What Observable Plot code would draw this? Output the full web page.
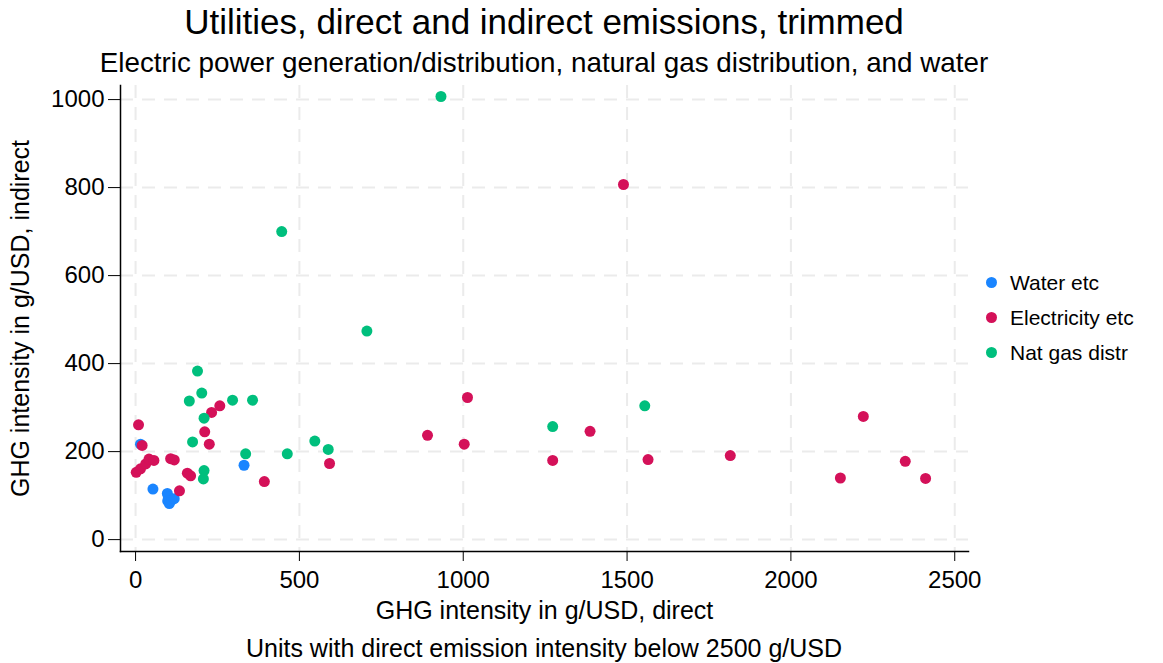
<!DOCTYPE html>
<html>
<head>
<meta charset="utf-8">
<script src="https://cdn.jsdelivr.net/npm/d3@7"></script>
<script src="https://cdn.jsdelivr.net/npm/@observablehq/plot@0.6"></script>
<style>
  body { margin: 0; background: #fff; font-family: "Liberation Sans", Arial, sans-serif; color: #000; }
  #wrap { position: relative; width: 1163px; height: 663px; overflow: hidden; }
  #title { width: 1088px; height: 44px; line-height: 44px; font-size: 35px; text-align: center; }
  #subtitle { width: 1088px; height: 38px; line-height: 38px; font-size: 27.8px; text-align: center; }
  #caption { width: 1088px; height: 44px; line-height: 44px; font-size: 25px; text-align: center; }
  #legend { position: absolute; left: 986px; top: 265px; font-size: 21px; }
  #legend .row { height: 35px; line-height: 35px; white-space: nowrap; }
  #legend .dot { display: inline-block; width: 11px; height: 11px; border-radius: 50%; margin-right: 13px; vertical-align: middle; position: relative; top: -2px; }
  svg { display: block; }
</style>
</head>
<body>
<div id="wrap">
  <div id="title">Utilities, direct and indirect emissions, trimmed</div>
  <div id="subtitle">Electric power generation/distribution, natural gas distribution, and water</div>
  <div id="chart"></div>
  <div id="caption">Units with direct emission intensity below 2500 g/USD</div>
  <div id="legend"></div>
</div>
<script>
const categories = ["Water etc", "Electricity etc", "Nat gas distr"];
const colors = ["#1A85FF", "#D41159", "#00BF7D"];

const waterX = [15, 53, 97, 100, 98, 103, 110, 118, 331];
const waterY = [217, 115, 105, 97, 88, 82, 90, 93, 169];

const elecX = [9, 20, 2, 15, 31, 41, 56, 107, 118, 158, 168, 134, 211, 225, 232, 257, 393, 592, 891, 1003, 1013, 1273, 1387, 1489, 1564, 1815, 2151, 2221, 2349, 2411];
const elecY = [261, 214, 153, 161, 172, 183, 180, 184, 181, 151, 145, 111, 245, 217, 289, 304, 132, 173, 237, 217, 323, 180, 246, 807, 182, 191, 140, 280, 178, 139];

const gasX = [164, 189, 202, 209, 174, 209, 207, 296, 357, 336, 463, 547, 588, 706, 446, 932, 1273, 1554];
const gasY = [315, 383, 333, 276, 222, 157, 138, 317, 317, 195, 195, 224, 205, 474, 700, 1007, 257, 304];

const xTicks = [0, 500, 1000, 1500, 2000, 2500];
const yTicks = [0, 200, 400, 600, 800, 1000];

const series = [[waterX, waterY], [elecX, elecY], [gasX, gasY]];
const data = [];
series.forEach(([xs, ys], i) => xs.forEach((x, j) => data.push({x, y: ys[j], group: categories[i]})));

const font = "'Liberation Sans', Arial, sans-serif";
const fmt = d3.format("d");

const chart = Plot.plot({
  width: 1163,
  height: 544,
  marginTop: 3,
  marginLeft: 120,
  marginRight: 195,
  marginBottom: 75,
  style: {fontFamily: font, fontSize: "24px", color: "#000", background: "#fff"},
  x: {domain: [-46, 2542]},
  y: {domain: [-27, 1032]},
  color: {domain: categories, range: colors},
  marks: [
    Plot.gridX(xTicks, {stroke: "#ebebeb", strokeOpacity: 1, strokeWidth: 2, strokeDasharray: "13,9"}),
    Plot.gridY(yTicks, {stroke: "#ebebeb", strokeOpacity: 1, strokeWidth: 2, strokeDasharray: "13,9"}),
    Plot.axisX(xTicks, {tickSize: 10, tickPadding: 9, fontSize: 24, tickFormat: fmt, label: null}),
    Plot.axisX({ticks: [], label: "GHG intensity in g/USD, direct", labelAnchor: "center", labelArrow: "none", labelOffset: 67, fontSize: 25}),
    Plot.axisY(yTicks, {tickSize: 12, tickPadding: 4, fontSize: 24, tickFormat: fmt, label: null}),
    Plot.axisY({ticks: [], label: "GHG intensity in g/USD, indirect", labelAnchor: "center", labelArrow: "none", labelOffset: 109, fontSize: 25}),
    Plot.frame({anchor: "left", stroke: "#000", strokeWidth: 1.5}),
    Plot.frame({anchor: "bottom", stroke: "#000", strokeWidth: 1.5}),
    Plot.dot(data, {x: "x", y: "y", fill: "group", r: 5.5, stroke: "none"})
  ]
});
document.getElementById("chart").appendChild(chart);

const legend = document.getElementById("legend");
categories.forEach((c, i) => {
  const row = document.createElement("div");
  row.className = "row";
  const dot = document.createElement("span");
  dot.className = "dot";
  dot.style.background = colors[i];
  row.appendChild(dot);
  row.appendChild(document.createTextNode(c));
  legend.appendChild(row);
});
</script>
</body>
</html>
